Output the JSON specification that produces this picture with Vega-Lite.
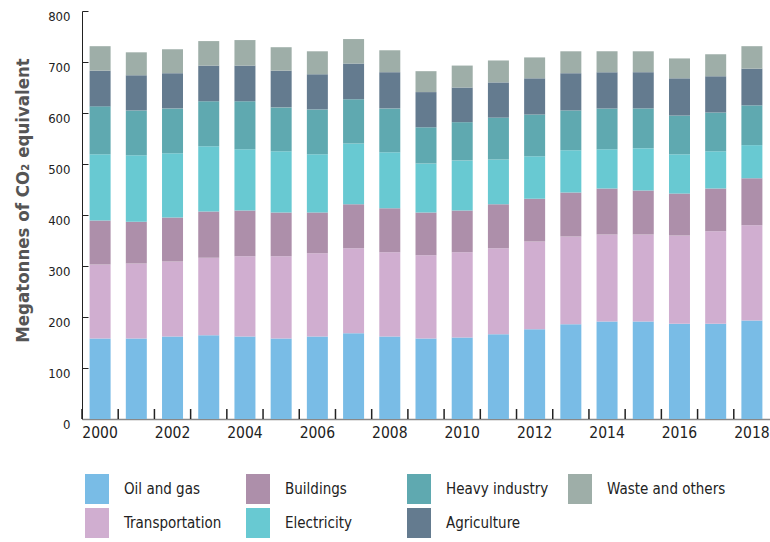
{
  "$schema": "https://vega.github.io/schema/vega-lite/v6.json",
  "autosize": {"type": "none"},
  "padding": {"left": 82, "top": 11, "right": 0, "bottom": 123},
  "width": 688,
  "height": 408,
  "background": "white",
  "config": {
    "view": {"stroke": null},
    "font": "DejaVu Sans Condensed, Roboto, sans-serif"
  },
  "datasets": {
    "emissions": [
      {"year": "2000", "Oil and gas": 158, "Transportation": 145, "Buildings": 86, "Electricity": 130, "Heavy industry": 94, "Agriculture": 70, "Waste and others": 48},
      {"year": "2001", "Oil and gas": 158, "Transportation": 147, "Buildings": 82, "Electricity": 130, "Heavy industry": 88, "Agriculture": 69, "Waste and others": 45},
      {"year": "2002", "Oil and gas": 162, "Transportation": 147, "Buildings": 86, "Electricity": 126, "Heavy industry": 88, "Agriculture": 69, "Waste and others": 47},
      {"year": "2003", "Oil and gas": 164, "Transportation": 152, "Buildings": 91, "Electricity": 128, "Heavy industry": 88, "Agriculture": 70, "Waste and others": 48},
      {"year": "2004", "Oil and gas": 162, "Transportation": 157, "Buildings": 90, "Electricity": 120, "Heavy industry": 94, "Agriculture": 70, "Waste and others": 50},
      {"year": "2005", "Oil and gas": 158, "Transportation": 161, "Buildings": 86, "Electricity": 120, "Heavy industry": 86, "Agriculture": 72, "Waste and others": 46},
      {"year": "2006", "Oil and gas": 162, "Transportation": 163, "Buildings": 80, "Electricity": 114, "Heavy industry": 88, "Agriculture": 69, "Waste and others": 45},
      {"year": "2007", "Oil and gas": 168, "Transportation": 167, "Buildings": 86, "Electricity": 119, "Heavy industry": 87, "Agriculture": 70, "Waste and others": 48},
      {"year": "2008", "Oil and gas": 162, "Transportation": 165, "Buildings": 86, "Electricity": 110, "Heavy industry": 86, "Agriculture": 71, "Waste and others": 43},
      {"year": "2009", "Oil and gas": 158, "Transportation": 163, "Buildings": 84, "Electricity": 96, "Heavy industry": 71, "Agriculture": 69, "Waste and others": 41},
      {"year": "2010", "Oil and gas": 160, "Transportation": 167, "Buildings": 82, "Electricity": 98, "Heavy industry": 75, "Agriculture": 68, "Waste and others": 43},
      {"year": "2011", "Oil and gas": 166, "Transportation": 169, "Buildings": 86, "Electricity": 88, "Heavy industry": 82, "Agriculture": 69, "Waste and others": 43},
      {"year": "2012", "Oil and gas": 176, "Transportation": 172, "Buildings": 84, "Electricity": 83, "Heavy industry": 82, "Agriculture": 71, "Waste and others": 41},
      {"year": "2013", "Oil and gas": 186, "Transportation": 172, "Buildings": 86, "Electricity": 83, "Heavy industry": 78, "Agriculture": 73, "Waste and others": 43},
      {"year": "2014", "Oil and gas": 191, "Transportation": 171, "Buildings": 90, "Electricity": 77, "Heavy industry": 80, "Agriculture": 71, "Waste and others": 41},
      {"year": "2015", "Oil and gas": 191, "Transportation": 171, "Buildings": 86, "Electricity": 83, "Heavy industry": 78, "Agriculture": 71, "Waste and others": 41},
      {"year": "2016", "Oil and gas": 187, "Transportation": 173, "Buildings": 82, "Electricity": 77, "Heavy industry": 76, "Agriculture": 73, "Waste and others": 39},
      {"year": "2017", "Oil and gas": 187, "Transportation": 181, "Buildings": 84, "Electricity": 73, "Heavy industry": 76, "Agriculture": 71, "Waste and others": 43},
      {"year": "2018", "Oil and gas": 193, "Transportation": 187, "Buildings": 92, "Electricity": 65, "Heavy industry": 78, "Agriculture": 72, "Waste and others": 44}
    ],
    "sectors": [
      {"sector": "Oil and gas", "rank": 1},
      {"sector": "Transportation", "rank": 2},
      {"sector": "Buildings", "rank": 3},
      {"sector": "Electricity", "rank": 4},
      {"sector": "Heavy industry", "rank": 5},
      {"sector": "Agriculture", "rank": 6},
      {"sector": "Waste and others", "rank": 7}
    ]
  },
  "layer": [
    {
      "data": {"name": "emissions"},
      "transform": [
        {"fold": ["Oil and gas", "Transportation", "Buildings", "Electricity", "Heavy industry", "Agriculture", "Waste and others"], "as": ["sector", "value"]},
        {"lookup": "sector", "from": {"data": {"name": "sectors"}, "key": "sector", "fields": ["rank"]}}
      ],
      "mark": {"type": "bar"},
      "encoding": {
        "x": {
          "field": "year",
          "type": "ordinal",
          "scale": {"paddingInner": 0.42, "paddingOuter": 0.21},
          "axis": {
            "orient": "bottom",
            "title": null,
            "labelAngle": 0,
            "labelExpr": "parseInt(datum.value) % 2 == 0 ? datum.label : ''",
            "labelFontSize": 15.5,
            "labelColor": "#222222",
            "labelPadding": 6,
            "ticks": false,
            "domainColor": "#888888",
            "domainWidth": 1.5
          }
        },
        "y": {
          "field": "value",
          "type": "quantitative",
          "stack": "zero",
          "scale": {"domain": [0, 800], "nice": false},
          "axis": {
            "orient": "left",
            "title": "Megatonnes of CO₂ equivalent",
            "titleFontSize": 18.5,
            "titleFontWeight": "bold",
            "titleColor": "#555555",
            "titlePadding": 15,
            "titleY": 189,
            "values": [0, 100, 200, 300, 400, 500, 600, 700, 800],
            "grid": false,
            "labelFontSize": 13,
            "labelColor": "#222222",
            "labelPadding": 12,
            "labelOffset": 5,
            "ticks": false,
            "domainColor": "#222222",
            "domainWidth": 1
          }
        },
        "order": {"field": "rank", "type": "quantitative"},
        "color": {
          "field": "sector",
          "type": "nominal",
          "scale": {
            "domain": ["Oil and gas", "Buildings", "Heavy industry", "Waste and others", "Transportation", "Electricity", "Agriculture"],
            "range": ["#79bce6", "#ad8faa", "#5fa9b0", "#9eaea8", "#d0aed0", "#68c9d2", "#647b8f"]
          },
          "legend": {
            "title": null,
            "orient": "none",
            "legendX": 0,
            "legendY": 463,
            "direction": "horizontal",
            "columns": 4,
            "gridAlign": "all",
            "columnPadding": -3,
            "rowPadding": 4,
            "symbolType": "M-0.8,-1L0.8,-1L0.8,1L-0.8,1Z",
            "symbolSize": 900,
            "symbolStrokeWidth": 0,
            "symbolOpacity": 1,
            "labelFontSize": 15,
            "labelColor": "#222222",
            "labelOffset": 12,
            "labelLimit": 200
          }
        }
      }
    },
    {
      "data": {"name": "emissions"},
      "mark": {"type": "rule", "color": "#222222", "strokeWidth": 1.5},
      "encoding": {
        "x": {
          "field": "year",
          "type": "ordinal",
          "bandPosition": 0,
          "scale": {"paddingInner": 0, "paddingOuter": 0},
          "axis": null
        },
        "y": {
          "datum": 0,
          "type": "quantitative",
          "axis": {
            "orient": "right",
            "title": null,
            "labels": false,
            "domain": false,
            "grid": false,
            "values": [100, 200, 300, 400, 500, 600, 700, 800],
            "ticks": true,
            "tickSize": 6,
            "offset": -688,
            "tickColor": "#222222",
            "tickWidth": 1
          }
        },
        "y2": {"datum": 19.6}
      }
    }
  ],
  "resolve": {"scale": {"x": "independent"}, "axis": {"x": "independent", "y": "independent"}}
}
